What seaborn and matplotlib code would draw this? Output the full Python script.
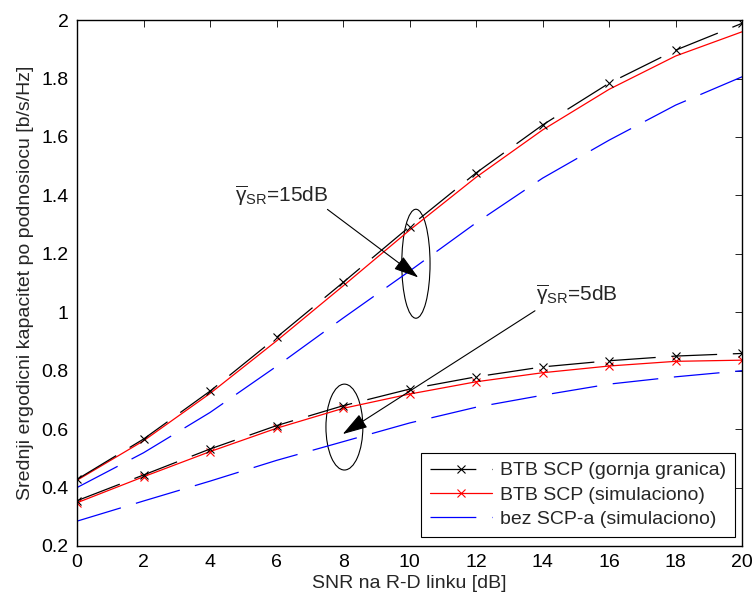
import matplotlib
matplotlib.use("Agg")
import matplotlib.pyplot as plt
import seaborn as sns
import numpy as np
from matplotlib.patches import Ellipse

# ---- data ----
snr = [0, 2, 4, 6, 8, 10, 12, 14, 16, 18, 20]
btb_ub_15 = [0.428, 0.566, 0.730, 0.914, 1.102, 1.293, 1.477, 1.641, 1.784, 1.897, 1.989]
btb_sim_15 = [0.425, 0.560, 0.722, 0.902, 1.090, 1.281, 1.462, 1.624, 1.763, 1.877, 1.960]
noscp_15 = [0.400, 0.519, 0.657, 0.815, 0.980, 1.141, 1.306, 1.459, 1.589, 1.709, 1.806]
btb_ub_5 = [0.355, 0.443, 0.532, 0.612, 0.680, 0.737, 0.779, 0.813, 0.834, 0.850, 0.859]
btb_sim_5 = [0.348, 0.437, 0.523, 0.603, 0.671, 0.720, 0.762, 0.793, 0.816, 0.832, 0.836]
noscp_5 = [0.285, 0.354, 0.422, 0.493, 0.557, 0.621, 0.675, 0.716, 0.754, 0.779, 0.800]

labels = ["BTB SCP (gornja granica)", "BTB SCP (simulaciono)", "bez SCP-a (simulaciono)"]
xlabel = "SNR na R-D linku [dB]"
ylabel = "Srednji ergodicni kapacitet po podnosiocu [b/s/Hz]"
xticks = [0, 2, 4, 6, 8, 10, 12, 14, 16, 18, 20]
yticks = [0.2, 0.4, 0.6, 0.8, 1.0, 1.2, 1.4, 1.6, 1.8, 2.0]
ytick_labels = ["0.2", "0.4", "0.6", "0.8", "1", "1.2", "1.4", "1.6", "1.8", "2"]

sns.set_theme(style="white")
plt.rcParams['font.family'] = ['Liberation Sans', 'DejaVu Sans']
plt.rcParams['mathtext.fontset'] = 'custom'
plt.rcParams['mathtext.rm'] = 'Liberation Sans'
plt.rcParams['mathtext.it'] = 'Liberation Sans'
plt.rcParams['lines.scale_dashes'] = False

FS = 14

fig = plt.figure(figsize=(7.55, 5.99), dpi=100)
ax = fig.add_axes([0.102, 0.0885, 0.881, 0.878])

dash = (0, (33, 11.3))
lw = 0.9
ms = 6
mew = 0.8

sns.lineplot(x=snr, y=noscp_15, ax=ax, color='blue', lw=lw, linestyle=dash, label=labels[2])
sns.lineplot(x=snr, y=noscp_5, ax=ax, color='blue', lw=lw, linestyle=dash)
sns.lineplot(x=snr, y=btb_sim_15, ax=ax, color='red', lw=lw)
sns.lineplot(x=snr, y=btb_sim_5, ax=ax, color='red', lw=lw, marker='x', ms=ms, mew=mew,
             mec='red', label=labels[1])
sns.lineplot(x=snr, y=btb_ub_15, ax=ax, color='black', lw=lw, linestyle=dash, marker='x',
             ms=ms, mew=mew, mec='black', label=labels[0])
sns.lineplot(x=snr, y=btb_ub_5, ax=ax, color='black', lw=lw, linestyle=dash, marker='x',
             ms=ms, mew=mew, mec='black')

ax.set_xlim(0, 20)
ax.set_ylim(0.2, 2.0)
ax.set_xticks(xticks)
ax.set_yticks(yticks)
ax.set_yticklabels(ytick_labels)
ax.tick_params(direction='in', length=5, width=0.6, top=True, right=True,
               labelsize=FS, colors='black', pad=6)
for s in ax.spines.values():
    s.set_visible(True)
    s.set_color('black')
    s.set_linewidth(1.0)
ax.set_xlabel(xlabel, fontsize=FS, labelpad=3)
ax.set_ylabel(ylabel, fontsize=FS, labelpad=5)

# annotations
ax.add_patch(Ellipse((10.19, 1.166), 0.85, 0.373, fill=False, ec='black', lw=0.8))
ax.add_patch(Ellipse((8.04, 0.607), 1.11, 0.294, fill=False, ec='black', lw=0.8))
arrow_style = dict(arrowstyle='-|>,head_length=1.3,head_width=0.4', color='black', lw=0.8,
                   shrinkA=0, shrinkB=0)
ax.annotate("", xy=(10.26, 1.119), xytext=(7.53, 1.352), arrowprops=arrow_style)
ax.annotate("", xy=(7.99, 0.583), xytext=(13.77, 1.005), arrowprops=arrow_style)
ax.text(4.75, 1.40, r'$\overline{\gamma}_{\mathrm{SR}}$=15dB', fontsize=FS + 1, va='center', ha='left')
ax.text(13.8, 1.06, r'$\overline{\gamma}_{\mathrm{SR}}$=5dB', fontsize=FS + 1, va='center', ha='left')

# legend in reference order
h, l = ax.get_legend_handles_labels()
order = [l.index(lbl) for lbl in labels]
leg = ax.legend([h[i] for i in order], [l[i] for i in order], loc='lower right',
                bbox_to_anchor=(0.989, 0.017), borderaxespad=0, fontsize=FS,
                frameon=True, fancybox=False, edgecolor='black', framealpha=1,
                handlelength=3.2, handletextpad=0.4, labelspacing=0.35, borderpad=0.45)
leg.get_frame().set_linewidth(0.8)

fig.savefig("out.png", dpi=100)
